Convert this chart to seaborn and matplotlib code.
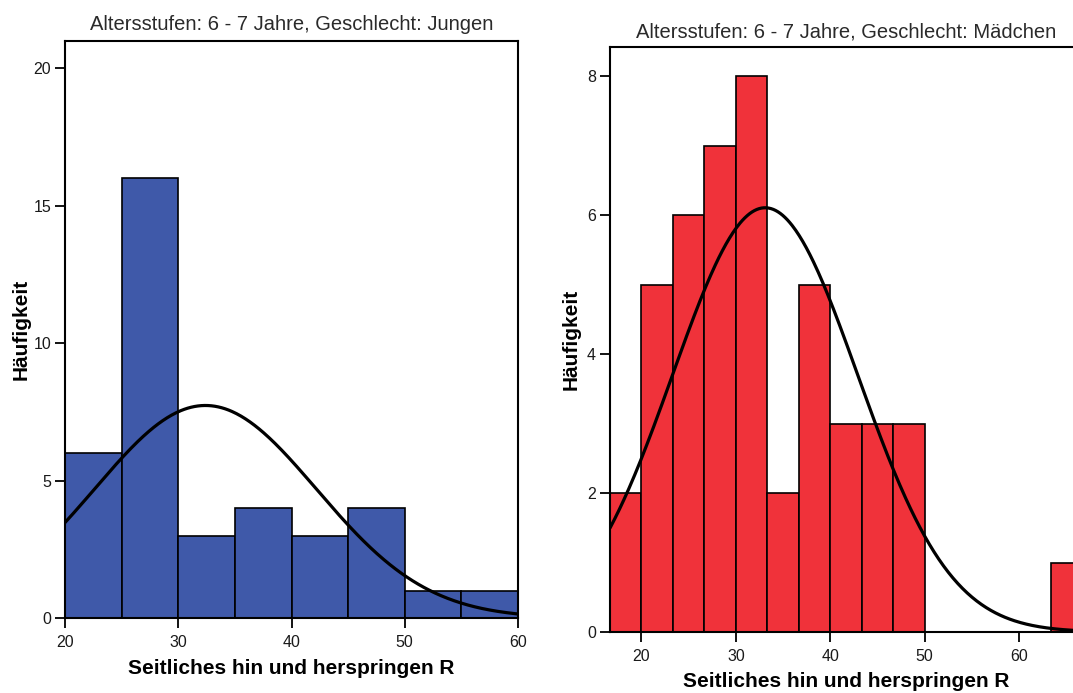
import numpy as np
import pandas as pd
import matplotlib
matplotlib.use("Agg")
import matplotlib.pyplot as plt
import seaborn as sns

# Counts per bin, boys (bin width 5)
boys_edges = [20, 25, 30, 35, 40, 45, 50, 55, 60]
boys_counts = [6, 16, 3, 4, 3, 4, 1, 1]
boys_mean, boys_sd, boys_n = 32.4, 9.8, 38

# Counts per bin, girls (bin width 10/3)
girls_edges = [50 / 3 + k * 10 / 3 for k in range(16)]
girls_counts = [2, 5, 6, 7, 8, 2, 5, 3, 3, 3, 0, 0, 0, 0, 1]
girls_mean, girls_sd, girls_n = 33.1, 9.8, 45

boys_yticks = [0, 5, 10, 15, 20]
girls_yticks = [0, 2, 4, 6, 8]
xticks = [20, 30, 40, 50, 60]

title_boys = "Altersstufen: 6 - 7 Jahre, Geschlecht: Jungen"
title_girls = "Altersstufen: 6 - 7 Jahre, Geschlecht: Mädchen"
xlabel = "Seitliches hin und herspringen R"
ylabel = "Häufigkeit"

sns.set_theme(style="white")
plt.rcParams["font.family"] = ["Liberation Sans", "DejaVu Sans"]

W, H = 1073, 693
fig = plt.figure(figsize=(W / 100, H / 100), dpi=100)


def px_axes(left, top, right, bottom):
    return fig.add_axes([left / W, 1 - bottom / H, (right - left) / W, (bottom - top) / H])


def panel(ax, edges, counts, mean, sd, n, color, xlim, ylim, yticks, title,
          title_pad, xlabel_pad, ylabel_pad):
    e = np.asarray(edges, dtype=float)
    centers = (e[:-1] + e[1:]) / 2
    df = pd.DataFrame({"x": centers, "w": counts})
    sns.histplot(data=df, x="x", weights="w", bins=list(edges), ax=ax,
                 color=color, alpha=1, edgecolor="black", linewidth=1.2)
    bw = e[1] - e[0]
    xs = np.linspace(xlim[0], xlim[1], 400)
    ys = n * bw * np.exp(-0.5 * ((xs - mean) / sd) ** 2) / (sd * np.sqrt(2 * np.pi))
    sns.lineplot(x=xs, y=ys, ax=ax, color="black", linewidth=2.3)
    ax.set_xlim(*xlim)
    ax.set_ylim(*ylim)
    ax.set_xticks(xticks)
    ax.set_yticks(yticks)
    ax.tick_params(axis="both", direction="out", length=7.5, width=1.3,
                   color="black", labelsize=11.5, labelcolor="#1a1a1a",
                   bottom=True, left=True)
    ax.tick_params(axis="x", pad=5)
    ax.tick_params(axis="y", pad=2.5)
    for s in ax.spines.values():
        s.set_color("black")
        s.set_linewidth(1.5)
    ax.set_title(title, fontsize=14.5, color="#2a2a2a", pad=title_pad)
    ax.set_xlabel(xlabel, fontsize=15, fontweight="bold", color="black",
                  labelpad=xlabel_pad)
    ax.set_ylabel(ylabel, fontsize=15, fontweight="bold", color="black",
                  labelpad=ylabel_pad)


ax1 = px_axes(65, 41, 518, 618)
panel(ax1, boys_edges, boys_counts, boys_mean, boys_sd, boys_n, "#3F59A9",
      (20, 60), (0, 21.0), boys_yticks, title_boys, 8, 6, 2)

ax2 = px_axes(610, 47, 1082, 632)
panel(ax2, girls_edges, girls_counts, girls_mean, girls_sd, girls_n, "#F0323A",
      (50 / 3, 200 / 3), (0, 8.42), girls_yticks, title_girls, 6.5, 5.5, 5)

fig.savefig("out.png", dpi=100)
